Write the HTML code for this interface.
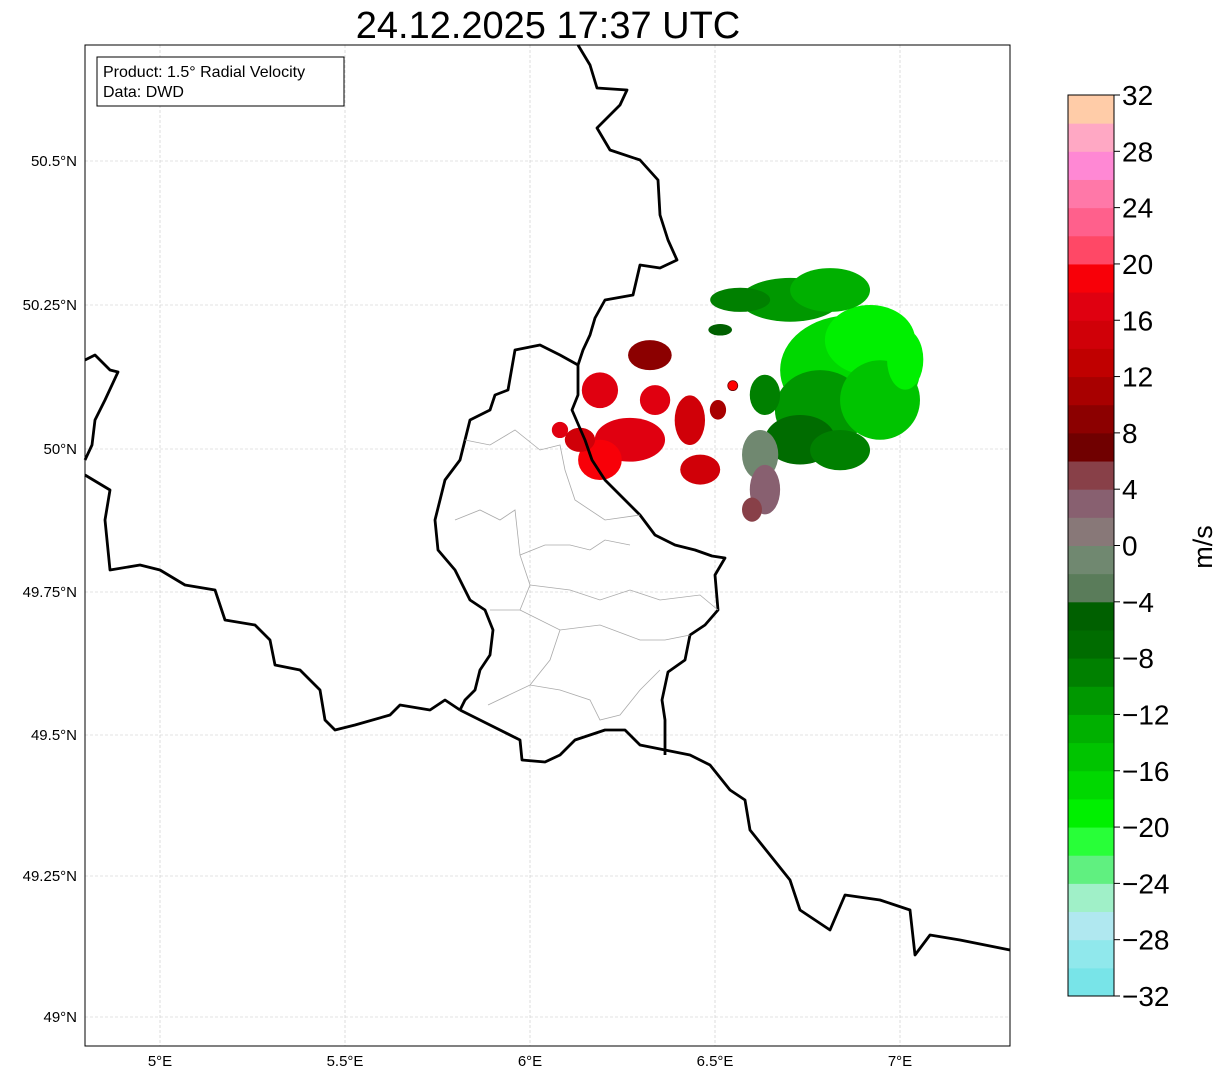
<!DOCTYPE html>
<html><head><meta charset="utf-8"><style>
body{margin:0;background:#fff;}
svg text{font-family:"Liberation Sans","DejaVu Sans",sans-serif;}
</style></head><body>
<svg id="fig" width="1225" height="1081" xmlns="http://www.w3.org/2000/svg">
<rect width="1225" height="1081" fill="#fff"/>
<text x="548" y="38" font-size="38" text-anchor="middle">24.12.2025 17:37 UTC</text>
<g id="grid"></g>
<g id="radar"></g>
<g fill="none" stroke="#000" stroke-width="2.8" stroke-linejoin="round">
<polyline points="578,45 590,65 597,88 627,90 620,105 597,128 610,150 640,160 658,180 660,215 668,240 677,260 660,268 640,265 633,295 605,300 595,318 590,335 583,350 578,365 578,395 572,410 585,440 592,460 605,480 625,500 640,515 655,535 675,545 695,550 712,556 725,558 715,575 718,610 705,625 690,635 685,660 668,672 662,700 665,720 665,755"/>
<polyline points="460,710 490,725 520,740 522,760 545,762 560,755 575,740 605,730 625,730 640,745 665,750 690,755 710,765 730,790 745,800 750,830 770,855 790,880 800,910 830,930 845,895 880,900 910,910 915,955 930,935 960,940 985,945 1010,950"/>
<polyline points="578,365 560,355 540,345 515,350 508,390 495,395 490,410 470,420 465,440 460,460 445,480 440,500 435,520 438,550 455,570 470,600 485,610 493,630 490,655 480,670 475,690 465,700 460,710"/>
<polyline points="85,475 110,490 105,520 110,570 140,565 160,570 185,585 215,590 225,620 255,625 270,640 275,665 300,670 320,690 325,720 335,730 355,725 390,715 400,705 430,710 445,700 460,710"/>
<polyline points="85,360 95,355 110,370 118,372 105,400 95,420 92,445 85,460"/>
</g>
<g fill="none" stroke="#aaa" stroke-width="0.8">
<polyline points="465,440 490,445 515,430 540,450 560,445 565,470 575,500 605,520 640,515"/>
<polyline points="455,520 480,510 500,520 515,510 520,555 545,545 570,545 590,550 605,540 630,545"/>
<polyline points="520,555 530,585 520,610 490,610"/>
<polyline points="530,585 570,590 600,600 630,590 660,600 700,595 718,610"/>
<polyline points="520,610 560,630 600,625 640,640 665,640 690,635"/>
<polyline points="488,705 530,685 560,690 590,700 600,720 620,715 640,690 660,670"/>
<polyline points="560,630 550,660 530,685"/>
</g>
<circle id="site" r="5" fill="#f00" stroke="#600" stroke-width="0.8"/>
<rect x="85" y="45" width="925" height="1001" fill="none" stroke="#000" stroke-width="1"/>
<g id="ticks"></g>
<rect x="97" y="57" width="247" height="49" fill="#fff" stroke="#000" stroke-width="1"/>
<text x="103" y="77" font-size="16">Product: 1.5° Radial Velocity</text>
<text x="103" y="97" font-size="16">Data: DWD</text>
<g id="cbar"></g>
<text transform="translate(1212,547) rotate(-90)" font-size="27" text-anchor="middle">m/s</text>
</svg>
<script>
const lonTicks=[5,5.5,6,6.5,7];
const lonLabels=["5°E","5.5°E","6°E","6.5°E","7°E"];
const latTicks=[49,49.25,49.5,49.75,50,50.25,50.5];
const latLabels=["49°N","49.25°N","49.5°N","49.75°N","50°N","50.25°N","50.5°N"];
const latPix=[1017,876,735,592,449,305,161];
const cbTicks=[-32,-28,-24,-20,-16,-12,-8,-4,0,4,8,12,16,20,24,28,32];
const cbColors=["#78e4e8","#90e8ec","#b0e8f0","#a0f0c8","#60f080","#28ff38","#00f000","#00d800","#00c400","#00b000","#009800","#008000","#006c00","#006000","#5a7c5a","#708870","#887878","#886070","#884048","#700000","#8c0000","#a80000","#c00000","#d00008","#e00010","#f80008","#ff4866","#ff608c","#ff78a8","#ff88d4","#ffa8c4","#ffcca8"];
const siteLon=6.548, siteLat=50.11;
const blobLon=[6.865,6.919,6.784,6.730,6.946,7.014,6.703,6.568,6.811,6.635,6.838,6.514,6.622,6.635,6.600,6.270,6.189,6.135,6.324,6.189,6.432,6.460,6.508,6.338,6.081];
const blobLat=[50.137,50.189,50.068,50.016,50.085,50.155,50.259,50.259,50.276,50.094,49.998,50.207,49.990,49.929,49.894,50.016,49.981,50.016,50.163,50.102,50.050,49.964,50.068,50.085,50.033];
const blobRx=[0.189,0.122,0.122,0.095,0.108,0.049,0.135,0.081,0.108,0.041,0.081,0.032,0.049,0.041,0.027,0.095,0.059,0.041,0.059,0.049,0.041,0.054,0.022,0.041,0.022];
const blobRy=[0.095,0.061,0.069,0.043,0.069,0.052,0.038,0.021,0.038,0.035,0.035,0.010,0.043,0.043,0.021,0.038,0.035,0.021,0.026,0.031,0.043,0.026,0.017,0.026,0.014];
const blobVel=[-18,-19,-12,-8,-16,-20,-11,-10,-13,-9,-10,-6,-2,3,5,16,18,14,9,17,15,14,10,16,17];

const NS="http://www.w3.org/2000/svg";
const X=lon=>160+(lon-5)*370;
function Y(lat){for(let i=0;i<latTicks.length-1;i++){if(lat<=latTicks[i+1]||i==latTicks.length-2){const t=(lat-latTicks[i])/(latTicks[i+1]-latTicks[i]);return latPix[i]+t*(latPix[i+1]-latPix[i]);}}}
function mk(tag,attrs,parent){const e=document.createElementNS(NS,tag);for(const k in attrs)e.setAttribute(k,attrs[k]);parent.appendChild(e);return e;}
function velColor(v){let i=Math.floor((v+32)/2);i=Math.max(0,Math.min(31,i));return cbColors[i];}
const grid=document.getElementById('grid'),ticks=document.getElementById('ticks');
lonTicks.forEach((l,i)=>{
 const gl=mk('line',{x1:X(l),x2:X(l),y1:45,y2:1046,stroke:'#c8c8c8','stroke-width':0.6,'stroke-dasharray':'3,2'},grid);
 
 
 const t=mk('text',{x:X(l),y:1066,'font-size':15,'text-anchor':'middle'},ticks);t.textContent=lonLabels[i];
 
 
});
latTicks.forEach((l,i)=>{
 const gl=mk('line',{x1:85,x2:1010,y1:Y(l),y2:Y(l),stroke:'#c8c8c8','stroke-width':0.6,'stroke-dasharray':'3,2'},grid);
 
 
 const t=mk('text',{x:77,y:Y(l)+5,'font-size':15,'text-anchor':'end'},ticks);t.textContent=latLabels[i];
 
 
});
const radar=document.getElementById('radar');
blobLon.forEach((l,i)=>{
 const e=mk('ellipse',{cx:X(l),cy:Y(blobLat[i]),rx:blobRx[i]*370,ry:blobRy[i]*576,fill:velColor(blobVel[i])},radar);
 
 
});
const site=document.getElementById('site');site.setAttribute('cx',X(siteLon));site.setAttribute('cy',Y(siteLat));
const cb=document.getElementById('cbar');
const cbTop=95,cbBot=996,cbX=1068,cbW=46;
const cy=v=>cbBot-(v+32)/64*(cbBot-cbTop);
cbColors.forEach((c,i)=>{
 const v=-32+2*i;
 const r=mk('rect',{x:cbX,y:cy(v+2),width:cbW,height:cy(v)-cy(v+2)+0.5,fill:c},cb);
 
 
});
mk('rect',{x:cbX,y:cbTop,width:cbW,height:cbBot-cbTop,fill:'none',stroke:'#000','stroke-width':1},cb);
cbTicks.forEach(v=>{
 mk('line',{x1:cbX+cbW,x2:cbX+cbW+6,y1:cy(v),y2:cy(v),stroke:'#000'},cb);
 const t=mk('text',{x:cbX+cbW+8,y:cy(v)+10,'font-size':28},cb);
 t.textContent=(v<0?'\u2212'+(-v):''+v);
 
 
});
</script>
</body></html>
